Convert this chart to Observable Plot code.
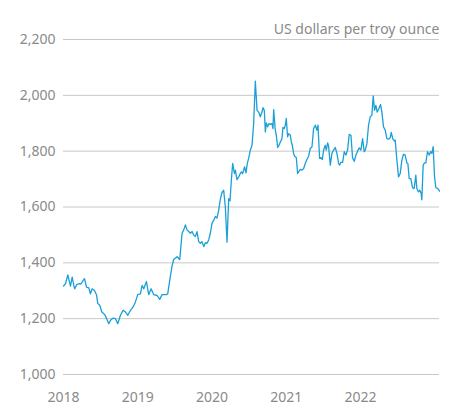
<!DOCTYPE html>
<html><head><meta charset="utf-8">
<script src="https://cdn.jsdelivr.net/npm/d3@7"></script>
<script src="https://cdn.jsdelivr.net/npm/@observablehq/plot@0.6"></script>
<style>body{margin:0;background:#fff;}</style>
</head><body><div id="chart"></div>
<script>
const years = [
2018.000,2018.027,2018.058,2018.081,2018.094,2018.117,2018.139,2018.152,2018.175,2018.206,
2018.238,2018.265,2018.283,2018.310,2018.341,2018.363,2018.386,2018.417,2018.444,2018.462,
2018.489,2018.516,2018.543,2018.565,2018.610,2018.633,2018.669,2018.700,2018.731,2018.767,
2018.803,2018.834,2018.866,2018.902,2018.938,2018.969,2019.000,2019.036,2019.059,2019.081,
2019.117,2019.148,2019.180,2019.216,2019.261,2019.296,2019.328,2019.386,2019.404,2019.431,
2019.463,2019.485,2019.530,2019.566,2019.597,2019.620,2019.642,2019.664,2019.687,2019.709,
2019.732,2019.754,2019.777,2019.799,2019.821,2019.844,2019.866,2019.889,2019.911,2019.934,
2019.956,2019.978,2020.001,2020.023,2020.046,2020.068,2020.091,2020.113,2020.135,2020.158,
2020.180,2020.203,2020.225,2020.243,2020.261,2020.279,2020.302,2020.315,2020.337,2020.360,
2020.382,2020.396,2020.413,2020.440,2020.458,2020.476,2020.494,2020.517,2020.539,2020.562,
2020.584,2020.607,2020.629,2020.651,2020.674,2020.687,2020.705,2020.719,2020.732,2020.750,
2020.768,2020.786,2020.808,2020.822,2020.831,2020.853,2020.867,2020.885,2020.903,2020.921,
2020.943,2020.956,2020.974,2020.988,2021.001,2021.019,2021.033,2021.055,2021.069,2021.082,
2021.100,2021.113,2021.136,2021.154,2021.167,2021.190,2021.212,2021.235,2021.257,2021.279,
2021.302,2021.324,2021.347,2021.369,2021.392,2021.414,2021.428,2021.450,2021.468,2021.486,
2021.504,2021.526,2021.540,2021.558,2021.571,2021.594,2021.616,2021.638,2021.661,2021.683,
2021.706,2021.719,2021.737,2021.760,2021.782,2021.804,2021.827,2021.849,2021.872,2021.894,
2021.917,2021.939,2021.961,2021.984,2022.006,2022.029,2022.051,2022.065,2022.087,2022.109,
2022.132,2022.154,2022.172,2022.190,2022.208,2022.226,2022.248,2022.271,2022.289,2022.311,
2022.334,2022.356,2022.378,2022.401,2022.415,2022.437,2022.459,2022.468,2022.491,2022.513,
2022.536,2022.558,2022.580,2022.603,2022.625,2022.639,2022.657,2022.679,2022.702,2022.724,
2022.746,2022.760,2022.782,2022.800,2022.818,2022.827,2022.845,2022.863,2022.881,2022.903,
2022.926,2022.944,2022.962,2022.980,2022.998,2023.016,2023.043,2023.065
];
const prices = [
1317,1325,1357,1331,1317,1349,1319,1307,1321,1325,
1325,1337,1343,1313,1310,1289,1307,1301,1286,1254,
1248,1224,1218,1210,1182,1194,1202,1200,1182,1212,
1230,1224,1212,1230,1242,1260,1286,1289,1319,1307,
1333,1286,1307,1286,1283,1269,1286,1286,1289,1337,
1390,1412,1422,1412,1506,1518,1536,1518,1512,1506,
1512,1500,1494,1512,1476,1470,1476,1458,1472,1470,
1482,1506,1542,1552,1566,1560,1590,1628,1652,1660,
1600,1474,1630,1622,1696,1756,1720,1732,1698,1708,
1720,1726,1720,1744,1722,1756,1774,1804,1820,1900,
2051,1946,1940,1923,1940,1956,1946,1869,1901,1887,
1899,1896,1899,1881,1949,1875,1857,1813,1821,1833,
1845,1885,1881,1893,1917,1851,1863,1857,1833,1821,
1792,1782,1777,1720,1726,1735,1732,1738,1756,1770,
1782,1810,1815,1881,1893,1875,1893,1774,1777,1770,
1804,1821,1804,1830,1818,1750,1792,1804,1813,1792,
1756,1750,1760,1760,1798,1786,1804,1860,1857,1776,
1764,1786,1800,1812,1804,1845,1798,1804,1827,1893,
1923,1929,1998,1946,1964,1940,1952,1967,1940,1887,
1875,1845,1843,1848,1867,1843,1836,1840,1768,1708,
1720,1768,1789,1786,1758,1756,1702,1702,1669,1666,
1714,1666,1654,1660,1648,1626,1750,1758,1758,1798,
1786,1798,1792,1816,1708,1669,1666,1657
];
const yTicks = [1000, 1200, 1400, 1600, 1800, 2000, 2200];
const xTicks = [2018, 2019, 2020, 2021, 2022];
const unitLabel = ["US dollars per troy ounce"];

const data = years.map((y, i) => ({year: y, price: prices[i]}));
const grey = "#8a8a8a";

const chart = Plot.plot({
  width: 452,
  height: 408,
  marginTop: 39,
  marginBottom: 34,
  marginLeft: 63,
  marginRight: 13,
  style: {fontFamily: "'Noto Sans', sans-serif", fontSize: "14px", color: grey, background: "#fff"},
  x: {type: "linear", domain: [2018, 2023.065]},
  y: {domain: [1000, 2200]},
  marks: [
    Plot.ruleY(yTicks, {stroke: "#c8c8c8", strokeWidth: 1}),
    Plot.axisY(yTicks, {tickSize: 0, tickPadding: 8, tickFormat: d3.format(","), label: null, fill: grey, fontSize: 14}),
    Plot.axisX(xTicks, {tickSize: 0, tickPadding: 18, tickFormat: d => String(d), label: null, fill: grey, fontSize: 14}),
    Plot.line(data, {x: "year", y: "price", stroke: "#1a9fd9", strokeWidth: 1.3}),
    Plot.text(unitLabel, {text: d => d, frameAnchor: "top-right", dy: -15, textAnchor: "end", fill: grey, fontSize: 14})
  ]
});
document.getElementById("chart").appendChild(chart);
</script>
</body></html>
